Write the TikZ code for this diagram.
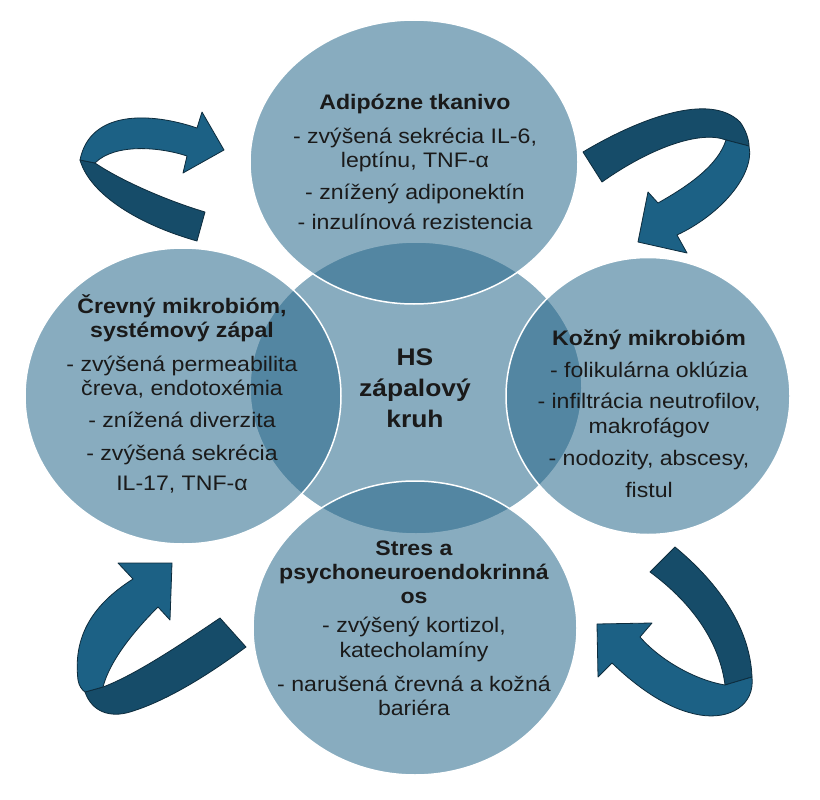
\documentclass[tikz,border=0pt]{standalone}
\usepackage{fontspec}
\setmainfont{Liberation Sans}[FakeStretch=1.1]
\usetikzlibrary{shapes.geometric}
\definecolor{bubbleblue}{HTML}{28688B}
\definecolor{ribbonfront}{HTML}{1C6185}
\definecolor{ribbonback}{HTML}{164C69}
\definecolor{ribbonline}{HTML}{0D2C3D}
\definecolor{inktext}{HTML}{1A1A1A}

\begin{document}
\begin{tikzpicture}[
  x=1pt, y=-1pt,
  bubble/.style={
    ellipse,
    draw=white,
    line width=1.5pt,
    fill=bubbleblue,
    fill opacity=0.55,
    inner sep=0pt
  },
  bubbletext/.style={
    align=center,
    anchor=base,
    inner sep=0pt,
    text=inktext,
    font=\fontsize{21}{24}\selectfont
  },
  fronthalf/.style={fill=ribbonfront, draw=ribbonline, line width=0.8pt, line join=round},
  backhalf/.style={fill=ribbonback, draw=ribbonline, line width=0.8pt, line join=round}
]
  \path[fill=white,use as bounding box] (0,0) rectangle (820,800);

  % the five overlapping circles, hub first
  \node[bubble, minimum width=332pt, minimum height=292pt] (hub) at (416,388) {};
  \node[bubble, minimum width=328pt, minimum height=284pt] (adipose) at (414,162) {};
  \node[bubble, minimum width=284pt, minimum height=277pt] (skin) at (648,396) {};
  \node[bubble, minimum width=324pt, minimum height=294pt] (stress) at (415,628) {};
  \node[bubble, minimum width=316pt, minimum height=296pt] (gut) at (183,396) {};

  % circular ribbon arrows
  % top left
  \path[backhalf] (95,163) .. controls (120,180) and (165,200) .. (205,212) -- (197,241)
    .. controls (140,225) and (90,195) .. (80,160) -- cycle;
  \path[fronthalf] (95,163) .. controls (115,143) and (160,147) .. (187,156) -- (183,173) -- (224,150)
    -- (202,112) -- (197,128) .. controls (150,112) and (90,110) .. (80,160) -- cycle;
  % top right
  \path[backhalf] (583,152) .. controls (640,118) and (710,92) .. (740,122)
    .. controls (746,130) and (749,140) .. (749,146) -- (726,140)
    .. controls (700,130) and (650,148) .. (602,182) -- cycle;
  \path[fronthalf] (726,140) -- (749,146) .. controls (755,175) and (720,215) .. (677,235) -- (687,253)
    -- (638,242) -- (648,192) -- (658,203) .. controls (690,185) and (718,165) .. (726,140) -- cycle;
  % bottom right
  \path[backhalf] (675,547) .. controls (715,580) and (750,625) .. (752,677) -- (725,685)
    .. controls (720,645) and (695,605) .. (650,572) -- cycle;
  \path[fronthalf] (725,685) -- (752,677) .. controls (755,705) and (730,720) .. (700,715)
    .. controls (670,710) and (640,690) .. (612,663) -- (598,677) -- (597,624) -- (652,623)
    -- (640,637) .. controls (660,660) and (695,680) .. (725,685) -- cycle;
  % bottom left
  \path[backhalf] (220,618) .. controls (180,645) and (135,675) .. (103,687) -- (85,692)
    .. controls (92,712) and (110,718) .. (130,712) .. controls (170,700) and (215,670) .. (246,647) -- cycle;
  \path[fronthalf] (85,692) -- (103,687) .. controls (110,660) and (135,630) .. (158,607) -- (170,620)
    -- (172,563) -- (118,563) -- (133,579) .. controls (100,600) and (72,630) .. (78,680)
    .. controls (79,686) and (82,690) .. (85,692) -- cycle;

  % texts (base = last line)
  \node[bubbletext] (adiposetxt) at (415,229) {\textbf{Adipózne tkanivo}\\[10pt]
    - zvýšená sekrécia IL-6,\\ leptínu, TNF-α\\[8pt]
    - znížený adiponektín\\[6pt]
    - inzulínová rezistencia};
  \node[bubbletext] (guttxt) at (182,490) {\textbf{Črevný mikrobióm,}\\ \textbf{systémový zápal}\\[10pt]
    - zvýšená permeabilita\\ čreva, endotoxémia\\[8pt]
    - znížená diverzita\\[9pt]
    - zvýšená sekrécia\\[6pt] IL-17, TNF-α};
  \node[bubbletext, font=\fontsize{24}{31}\selectfont] (hubtxt) at (415,427)
    {\textbf{HS}\\ \textbf{zápalový}\\ \textbf{kruh}};
  \node[bubbletext] (skintxt) at (649,497) {\textbf{Kožný mikrobióm}\\[8pt]
    - folikulárna oklúzia\\[7pt]
    - infiltrácia neutrofilov,\\[1pt] makrofágov\\[8pt]
    - nodozity, abscesy,\\[8pt] fistul};
  \node[bubbletext] (stresstxt) at (414,715) {\textbf{Stres a}\\ \textbf{psychoneuroendokrinná}\\ \textbf{os}\\[5pt]
    - zvýšený kortizol,\\[1pt] katecholamíny\\[10pt]
    - narušená črevná a kožná\\ bariéra};
\end{tikzpicture}
\end{document}
